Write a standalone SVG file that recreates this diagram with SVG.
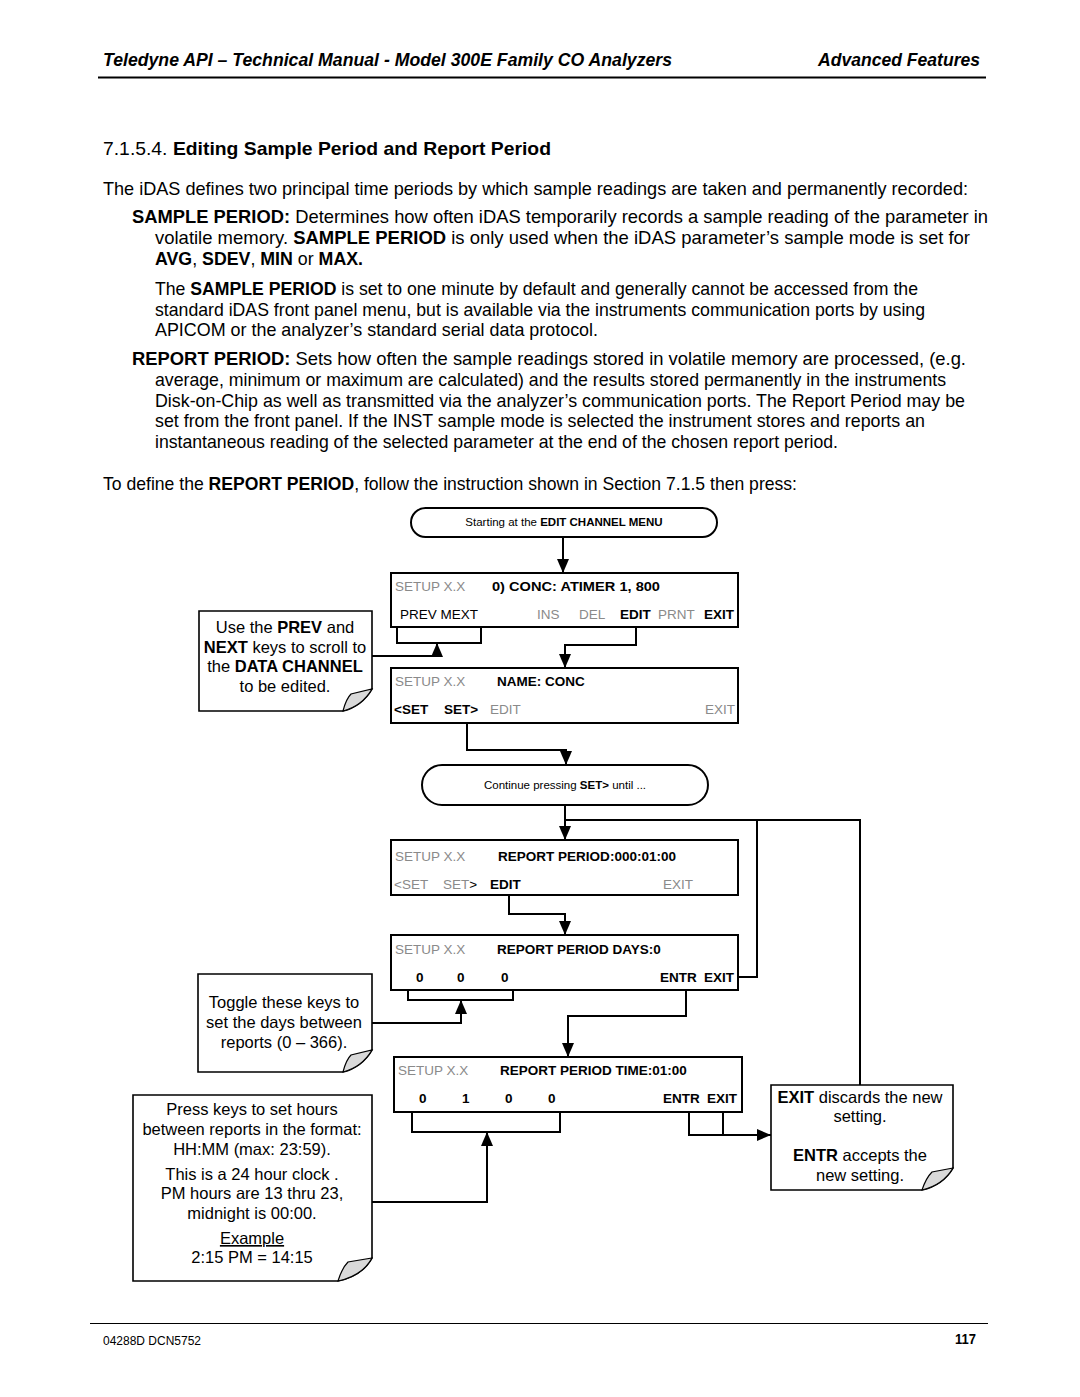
<svg xmlns="http://www.w3.org/2000/svg" width="1080" height="1397" viewBox="0 0 1080 1397">
<style>
text{font-family:"Liberation Sans",Arial,sans-serif;fill:#000}
.body{font-size:18.5px}
.b{font-weight:bold}
.hdr{font-size:18px;font-weight:bold;font-style:italic}
.box{fill:#fff;stroke:#000;stroke-width:2}
.pill{fill:#fff;stroke:#000;stroke-width:2}
.note{fill:#fff;stroke:#000;stroke-width:1.6}
.flap{fill:#d9d9d9;stroke:#000;stroke-width:1.2}
.lcd{font-size:13.5px}
.g{fill:#8a8a8a}
.nt{font-size:16.5px;text-anchor:middle}
.pt{font-size:11.5px;text-anchor:middle}
.c{fill:none;stroke:#000;stroke-width:2}
.rule{stroke:#000}
</style>
<defs>
<marker id="ah" markerUnits="userSpaceOnUse" markerWidth="14" markerHeight="12" refX="14" refY="6" orient="auto">
<path d="M0,0 L14,6 L0,12 z" fill="#000"/>
</marker>
</defs>
<rect width="1080" height="1397" fill="#fff"/>

<g id="page-header">
<text class="hdr" x="103" y="66" textLength="569" lengthAdjust="spacingAndGlyphs">Teledyne API – Technical Manual - Model 300E Family CO Analyzers</text>
<text class="hdr" x="818" y="66" textLength="162" lengthAdjust="spacingAndGlyphs">Advanced Features</text>
<line class="rule" x1="98" y1="77.5" x2="986" y2="77.5" stroke-width="2"/>
</g>

<g id="page-text" class="body">
<text x="103" y="155" font-size="19" textLength="448" lengthAdjust="spacingAndGlyphs">7.1.5.4. <tspan class="b">Editing Sample Period and Report Period</tspan></text>
<text x="103" y="195" textLength="865" lengthAdjust="spacingAndGlyphs">The iDAS defines two principal time periods by which sample readings are taken and permanently recorded:</text>
<text x="132" y="223" textLength="856" lengthAdjust="spacingAndGlyphs"><tspan class="b">SAMPLE PERIOD:</tspan>  Determines how often iDAS temporarily records a sample reading of the parameter in</text>
<text x="155" y="244" textLength="815" lengthAdjust="spacingAndGlyphs">volatile memory.  <tspan class="b">SAMPLE PERIOD</tspan> is only used when the iDAS parameter’s sample mode is set for</text>
<text x="155" y="265" textLength="208" lengthAdjust="spacingAndGlyphs"><tspan class="b">AVG</tspan>, <tspan class="b">SDEV</tspan>, <tspan class="b">MIN</tspan> or <tspan class="b">MAX.</tspan></text>
<text x="155" y="295" textLength="763" lengthAdjust="spacingAndGlyphs">The <tspan class="b">SAMPLE PERIOD</tspan> is set to one minute by default and generally cannot be accessed from the</text>
<text x="155" y="316" textLength="770" lengthAdjust="spacingAndGlyphs">standard iDAS front panel menu, but is available via the instruments communication ports by using</text>
<text x="155" y="336" textLength="443" lengthAdjust="spacingAndGlyphs">APICOM or the analyzer’s standard serial data protocol.</text>
<text x="132" y="365" textLength="834" lengthAdjust="spacingAndGlyphs"><tspan class="b">REPORT PERIOD:</tspan>  Sets how often the sample readings stored in volatile memory are processed, (e.g.</text>
<text x="155" y="386" textLength="791" lengthAdjust="spacingAndGlyphs">average, minimum or maximum are calculated) and the results stored permanently in the instruments</text>
<text x="155" y="407" textLength="810" lengthAdjust="spacingAndGlyphs">Disk-on-Chip as well as transmitted via the analyzer’s communication ports.  The Report Period may be</text>
<text x="155" y="427" textLength="770" lengthAdjust="spacingAndGlyphs">set from the front panel.  If the INST sample mode is selected the instrument stores and reports an</text>
<text x="155" y="448" textLength="683" lengthAdjust="spacingAndGlyphs">instantaneous reading of the selected parameter at the end of the chosen report period.</text>
<text x="103" y="490" textLength="694" lengthAdjust="spacingAndGlyphs">To define the <tspan class="b">REPORT PERIOD</tspan>, follow the instruction shown in Section 7.1.5 then press:</text>
</g>

<g id="connectors">
<path class="c" d="M563,537 V573" marker-end="url(#ah)"/>
<path class="c" d="M372,656 H437 V643" marker-end="url(#ah)"/>
<path class="c" d="M397,613 V643 H481 V613"/>
<path class="c" d="M636,621 V645 H565 V668" marker-end="url(#ah)"/>
<path class="c" d="M467,716 V750 H566 V765" marker-end="url(#ah)"/>
<path class="c" d="M565,805 V840" marker-end="url(#ah)"/>
<path class="c" d="M565,820 H860 V1085"/>
<path class="c" d="M757,820 V977 H738"/>
<path class="c" d="M509,890 V914 H565 V935" marker-end="url(#ah)"/>
<path class="c" d="M408,970 V1000 H513 V970"/>
<path class="c" d="M372,1023 H461 V1000" marker-end="url(#ah)"/>
<path class="c" d="M686,984 V1016 H568 V1057" marker-end="url(#ah)"/>
<path class="c" d="M412,1092 V1132 H560 V1092"/>
<path class="c" d="M372,1202 H487 V1132" marker-end="url(#ah)"/>
<path class="c" d="M689,1106 V1135 H723"/>
<path class="c" d="M723,1106 V1135 H771" marker-end="url(#ah)"/>
</g>

<g id="start-pill">
<rect class="pill" x="411" y="508" width="306" height="29" rx="14.5"/>
<text class="pt" x="564" y="526">Starting at the <tspan class="b">EDIT CHANNEL MENU</tspan></text>
</g>

<g id="box-conc" class="lcd">
<rect class="box" x="391" y="573" width="347" height="54"/>
<text class="lcd g" x="395" y="591">SETUP X.X</text>
<text class="lcd b" x="492" y="591" textLength="168" lengthAdjust="spacingAndGlyphs">0) CONC:  ATIMER 1, 800</text>
<text class="lcd" x="400" y="619">PREV MEXT</text>
<text class="lcd g" x="537" y="619">INS</text>
<text class="lcd g" x="579" y="619">DEL</text>
<text class="lcd b" x="620" y="619">EDIT</text>
<text class="lcd g" x="658" y="619">PRNT</text>
<text class="lcd b" x="704" y="619">EXIT</text>
</g>

<g id="box-name">
<rect class="box" x="391" y="668" width="347" height="55"/>
<text class="lcd g" x="395" y="686">SETUP X.X</text>
<text class="lcd b" x="497" y="686">NAME: CONC</text>
<text class="lcd b" x="394" y="714">&lt;SET</text>
<text class="lcd b" x="444" y="714">SET&gt;</text>
<text class="lcd g" x="490" y="714">EDIT</text>
<text class="lcd g" x="705" y="714">EXIT</text>
</g>

<g id="continue-pill">
<rect class="pill" x="422" y="765" width="286" height="40" rx="20"/>
<text class="pt" x="565" y="789">Continue pressing <tspan class="b">SET&gt;</tspan>  until ...</text>
</g>

<g id="box-report-period">
<rect class="box" x="391" y="840" width="347" height="55"/>
<text class="lcd g" x="395" y="861">SETUP X.X</text>
<text class="lcd b" x="498" y="861" textLength="178" lengthAdjust="spacingAndGlyphs">REPORT PERIOD:000:01:00</text>
<text class="lcd g" x="394" y="889">&lt;SET</text>
<text class="lcd" x="443" y="889"><tspan class="g">SET</tspan>&gt;</text>
<text class="lcd b" x="490" y="889">EDIT</text>
<text class="lcd g" x="663" y="889">EXIT</text>
</g>

<g id="box-days">
<rect class="box" x="391" y="935" width="347" height="55"/>
<text class="lcd g" x="395" y="954">SETUP X.X</text>
<text class="lcd b" x="497" y="954">REPORT PERIOD DAYS:0</text>
<text class="lcd b" x="416" y="982">0</text>
<text class="lcd b" x="457" y="982">0</text>
<text class="lcd b" x="501" y="982">0</text>
<text class="lcd b" x="660" y="982">ENTR</text>
<text class="lcd b" x="704" y="982">EXIT</text>
</g>

<g id="box-time">
<rect class="box" x="394" y="1057" width="348" height="55"/>
<text class="lcd g" x="398" y="1075">SETUP X.X</text>
<text class="lcd b" x="500" y="1075">REPORT PERIOD TIME:01:00</text>
<text class="lcd b" x="419" y="1103">0</text>
<text class="lcd b" x="462" y="1103">1</text>
<text class="lcd b" x="505" y="1103">0</text>
<text class="lcd b" x="548" y="1103">0</text>
<text class="lcd b" x="663" y="1103">ENTR</text>
<text class="lcd b" x="707" y="1103">EXIT</text>
</g>

<g id="note-prev-next">
<path class="note" d="M199,611 H372 V689 Q362,706 343,711 H199 Z"/>
<path class="flap" d="M343,711 Q346,699 351,694 L372,689 Q362,706 343,711 Z"/>
<text class="nt" x="285" y="633">Use the <tspan class="b">PREV</tspan> and</text>
<text class="nt" x="285" y="653"><tspan class="b">NEXT</tspan> keys to scroll to</text>
<text class="nt" x="285" y="672">the <tspan class="b">DATA CHANNEL</tspan></text>
<text class="nt" x="285" y="692">to be edited.</text>
</g>

<g id="note-toggle-days">
<path class="note" d="M198,974 H372 V1050 Q362,1067 343,1072 H198 Z"/>
<path class="flap" d="M343,1072 Q346,1060 351,1055 L372,1050 Q362,1067 343,1072 Z"/>
<text class="nt" x="284" y="1008">Toggle these keys to</text>
<text class="nt" x="284" y="1028">set the days between</text>
<text class="nt" x="284" y="1048">reports (0 – 366).</text>
</g>

<g id="note-hours">
<path class="note" d="M133,1095 H372 V1258 Q362,1276 338,1281 H133 Z"/>
<path class="flap" d="M338,1281 Q342,1268 348,1262 L372,1258 Q362,1276 338,1281 Z"/>
<text class="nt" x="252" y="1115">Press keys to set hours</text>
<text class="nt" x="252" y="1135">between reports in the format:</text>
<text class="nt" x="252" y="1155">HH:MM (max: 23:59).</text>
<text class="nt" x="252" y="1180">This is a 24 hour clock .</text>
<text class="nt" x="252" y="1199">PM hours are 13 thru 23,</text>
<text class="nt" x="252" y="1219">midnight is 00:00.</text>
<text class="nt" x="252" y="1244" text-decoration="underline">Example</text>
<text class="nt" x="252" y="1263">2:15 PM = 14:15</text>
</g>

<g id="note-exit-entr">
<path class="note" d="M771,1085 H953 V1168 Q943,1185 922,1190 H771 Z"/>
<path class="flap" d="M922,1190 Q926,1178 932,1172 L953,1168 Q943,1185 922,1190 Z"/>
<text class="nt" x="860" y="1103"><tspan class="b">EXIT</tspan> discards the new</text>
<text class="nt" x="860" y="1122">setting.</text>
<text class="nt" x="860" y="1161"><tspan class="b">ENTR</tspan> accepts the</text>
<text class="nt" x="860" y="1181">new setting.</text>
</g>

<g id="page-footer">
<line class="rule" x1="90" y1="1323.5" x2="988" y2="1323.5" stroke-width="1"/>
<text x="103" y="1345" font-size="12.5" textLength="98" lengthAdjust="spacingAndGlyphs">04288D DCN5752</text>
<text x="955" y="1344" font-size="15" font-weight="bold" textLength="21" lengthAdjust="spacingAndGlyphs">117</text>
</g>
</svg>
